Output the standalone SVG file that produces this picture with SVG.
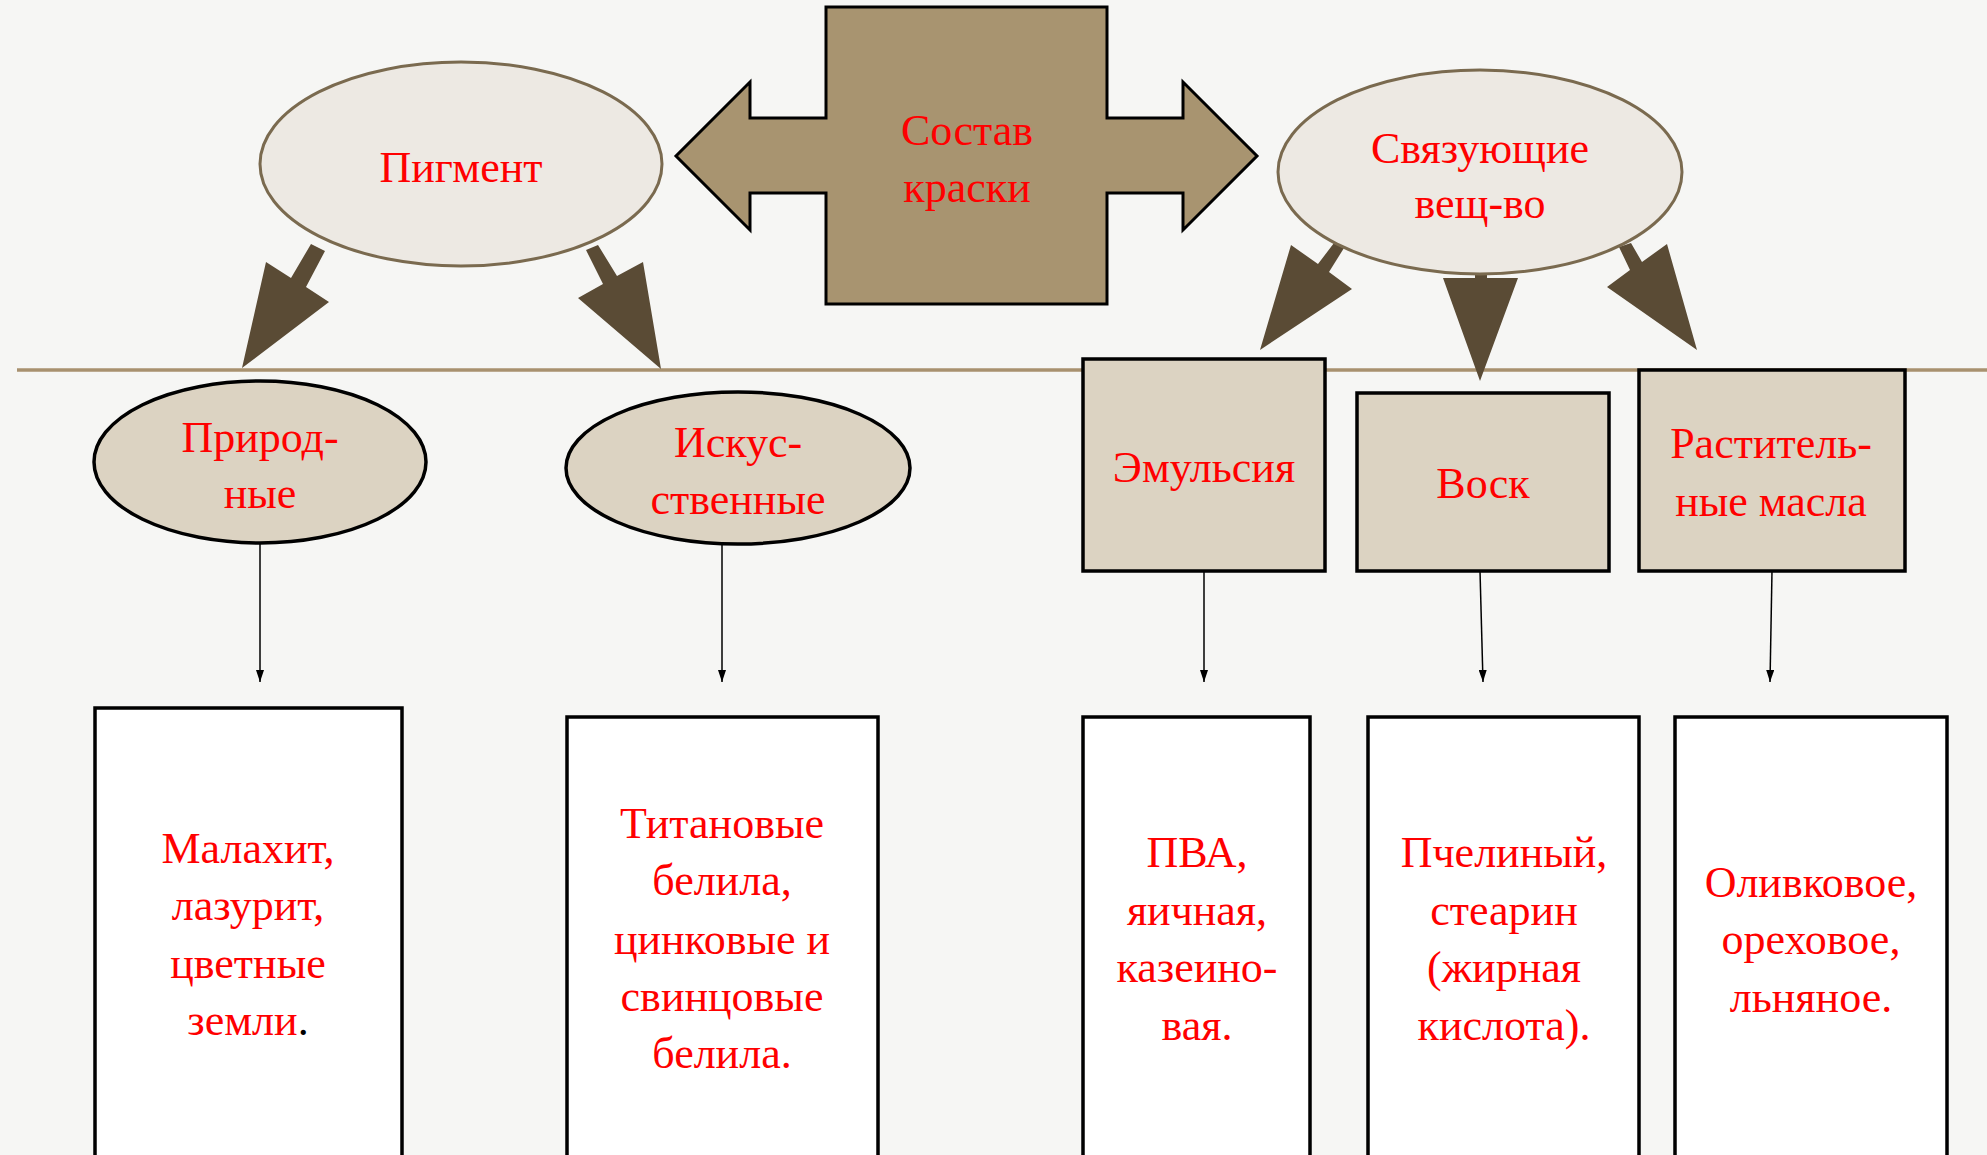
<svg xmlns="http://www.w3.org/2000/svg" width="1987" height="1155" viewBox="0 0 1987 1155">
<defs>
<marker id="ah" viewBox="0 0 10 20" refX="10" refY="10" markerWidth="5" markerHeight="10" markerUnits="userSpaceOnUse" orient="auto"><path d="M0,3 L10,10 L0,17 Z" fill="#000"/></marker>
<marker id="ah2" viewBox="0 0 12 8" refX="12" refY="4" markerWidth="14" markerHeight="8" markerUnits="userSpaceOnUse" orient="auto"><path d="M0,0 L12,4 L0,8 Z" fill="#000"/></marker>
</defs>
<style>
.t{font-family:"Liberation Serif","DejaVu Serif",serif;font-size:44px;fill:#ff0000;text-anchor:middle}
.big{fill:#a89470;stroke:#000;stroke-width:3;stroke-linejoin:miter}
.top{fill:#ede9e3;stroke:#7a6a4f;stroke-width:3}
.mid{fill:#dcd3c2;stroke:#000;stroke-width:3.5}
.box{fill:#ffffff;stroke:#000;stroke-width:3.5}
.fat{fill:#5a4b35}
.thin{stroke:#000;stroke-width:1.5;fill:none}
</style>
<rect x="0" y="0" width="1987" height="1155" fill="#f6f6f4"/>
<line x1="17" y1="370" x2="1987" y2="370" stroke="#a8916f" stroke-width="3.5"/>
<g id="connectors">
<polygon class="fat" points="311,244 325,251 306,287 329,302 242,368 266,262 291,278"/>
<polygon class="fat" points="586,250 598,245 617,276 643,262 661,369 578,298 603,284"/>
<polygon class="fat" points="1334,243 1344,248 1329,272 1352,289 1260,350 1291,245 1318,264"/>
<polygon class="fat" points="1475,268 1487,268 1487,278 1518,278 1480,381 1443,278 1475,278"/>
<polygon class="fat" points="1619,247 1631,243 1642,262 1667,244 1697,350 1607,287 1630,270"/>
<line class="thin" x1="260" y1="544" x2="260" y2="682" marker-end="url(#ah2)"/>
<line class="thin" x1="722" y1="544" x2="722" y2="682" marker-end="url(#ah2)"/>
<line class="thin" x1="1204" y1="571" x2="1204" y2="682" marker-end="url(#ah2)"/>
<line class="thin" x1="1480" y1="571" x2="1483" y2="682" marker-end="url(#ah2)"/>
<line class="thin" x1="1772" y1="571" x2="1770" y2="682" marker-end="url(#ah2)"/>
</g>
<g id="sostav">
<polygon class="big" points="826,7 1107,7 1107,118 1183,118 1183,82 1257,156 1183,230 1183,193 1107,193 1107,304 826,304 826,193 750,193 750,230 676,156 750,82 750,118 826,118"/>
<text class="t" x="967" y="145">Состав</text>
<text class="t" x="967" y="202">краски</text>
</g>
<g id="pigment">
<ellipse class="top" cx="461" cy="164" rx="201" ry="102"/>
<text class="t" x="461" y="182">Пигмент</text>
</g>
<g id="svyaz">
<ellipse class="top" cx="1480" cy="172" rx="202" ry="102"/>
<text class="t" x="1480" y="163">Связующие</text>
<text class="t" x="1480" y="218">вещ-во</text>
</g>
<g id="prirod">
<ellipse class="mid" cx="260" cy="462" rx="166" ry="81"/>
<text class="t" x="260" y="452">Природ-</text>
<text class="t" x="260" y="508">ные</text>
</g>
<g id="iskus">
<ellipse class="mid" cx="738" cy="468" rx="172" ry="76"/>
<text class="t" x="738" y="457">Искус-</text>
<text class="t" x="738" y="514">ственные</text>
</g>
<g id="emuls">
<rect class="mid" x="1083" y="359" width="242" height="212"/>
<text class="t" x="1204" y="482">Эмульсия</text>
</g>
<g id="vosk">
<rect class="mid" x="1357" y="393" width="252" height="178"/>
<text class="t" x="1483" y="498">Воск</text>
</g>
<g id="rastit">
<rect class="mid" x="1639" y="370" width="266" height="201"/>
<text class="t" x="1771" y="458">Раститель-</text>
<text class="t" x="1771" y="516">ные масла</text>
</g>
<g id="malahit">
<rect class="box" x="95" y="708" width="307" height="460"/>
<text class="t" x="248" y="863">Малахит,</text>
<text class="t" x="248" y="920">лазурит,</text>
<text class="t" x="248" y="978">цветные</text>
<text class="t" x="248" y="1035">земли<tspan fill="#000">.</tspan></text>
</g>
<g id="titan">
<rect class="box" x="567" y="717" width="311" height="460"/>
<text class="t" x="722" y="838">Титановые</text>
<text class="t" x="722" y="895">белила,</text>
<text class="t" x="722" y="954">цинковые и</text>
<text class="t" x="722" y="1011">свинцовые</text>
<text class="t" x="722" y="1068">белила.</text>
</g>
<g id="pva">
<rect class="box" x="1083" y="717" width="227" height="460"/>
<text class="t" x="1197" y="867">ПВА,</text>
<text class="t" x="1197" y="925">яичная,</text>
<text class="t" x="1197" y="982">казеино-</text>
<text class="t" x="1197" y="1040">вая.</text>
</g>
<g id="pchel">
<rect class="box" x="1368" y="717" width="271" height="460"/>
<text class="t" x="1504" y="867">Пчелиный,</text>
<text class="t" x="1504" y="925">стеарин</text>
<text class="t" x="1504" y="982">(жирная</text>
<text class="t" x="1504" y="1040">кислота).</text>
</g>
<g id="oliv">
<rect class="box" x="1675" y="717" width="272" height="460"/>
<text class="t" x="1811" y="897">Оливковое,</text>
<text class="t" x="1811" y="954">ореховое,</text>
<text class="t" x="1811" y="1012">льняное.</text>
</g>
</svg>
